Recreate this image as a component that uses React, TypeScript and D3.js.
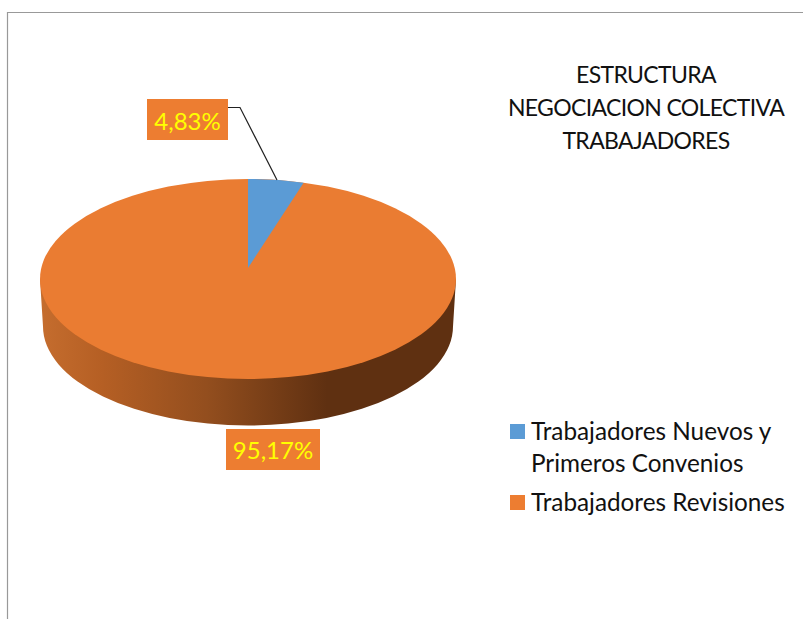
import React from "react";
import * as d3 from "d3";

const categories = ["Trabajadores Nuevos y|Primeros Convenios", "Trabajadores Revisiones"];
const values = [4.83, 95.17];
const valueLabels = ["4,83%", "95,17%"];
const colors = ["#5B9BD5", "#EA7C32"];
const legendColors = ["#5B9BD5", "#ED7D31"];
const titleLines = ["ESTRUCTURA", "NEGOCIACION COLECTIVA", "TRABAJADORES"];
const FONT = "Lato, 'Open Sans', sans-serif";

const cx = 248, cy = 279, rx = 208, ry = 100, apexY = 268;
const bx = 248, by = 326.5, brx = 205, bry = 99;

// Cast a ray from the off-centre apex to the top ellipse for pie angle a
function rim(a: number): [number, number] {
  const dx = Math.sin(a);
  const dy = -Math.cos(a);
  const oy = (apexY - cy) / ry;
  const A = dx * dx + dy * dy;
  const B = 2 * oy * dy;
  const C = oy * oy - 1;
  const t = (-B + Math.sqrt(B * B - 4 * A * C)) / (2 * A);
  return [cx + rx * dx * t, cy + ry * (oy + dy * t)];
}

export default function App() {
  const arcs = d3.pie<number>().sort(null)(values);
  const slicePath = (i: number) => {
    const a = arcs[i];
    const p0 = rim(a.startAngle);
    const p1 = rim(a.endAngle);
    const large = a.endAngle - a.startAngle > Math.PI ? 1 : 0;
    return `M${cx},${apexY}L${p0[0]},${p0[1]}A${rx},${ry} 0 ${large} 1 ${p1[0]},${p1[1]}Z`;
  };
  const side = `M${cx - rx},${cy} L${bx - brx},${by} A${brx},${bry} 0 0 0 ${bx + brx},${by} L${cx + rx},${cy} Z`;
  const x = d3.scaleLinear().domain([0, 1]).range([cx - rx, cx + rx]);
  const leader = d3.line()([[228, 107.5], [240, 107.5], [277, 180]]) as string;
  const legendRows = [
    { square: 424, baselines: [440, 472], lines: categories[0].split("|") },
    { square: 495, baselines: [511], lines: categories[1].split("|") },
  ];
  return (
    <svg width={803} height={619} style={{ position: "absolute", left: 0, top: 0, background: "#fff" }} fontFamily={FONT}>
      <defs>
        <linearGradient id="side" gradientUnits="userSpaceOnUse" x1={x(0)} x2={x(1)} y1={0} y2={0}>
          <stop offset="0" stopColor="#C56D2E" />
          <stop offset="0.15" stopColor="#B55F24" />
          <stop offset="0.4" stopColor="#934E1E" />
          <stop offset="0.69" stopColor="#5F3011" />
          <stop offset="1" stopColor="#5F3011" />
        </linearGradient>
      </defs>
      <path d="M7.5,619V12.5H803" fill="none" stroke="#999" strokeWidth={1.2} />
      <path d={side} fill="url(#side)" />
      <ellipse cx={cx} cy={cy} rx={rx} ry={ry} fill={colors[1]} />
      {arcs.map((_, i) => (i === 0 ? <path key={i} d={slicePath(i)} fill={colors[i]} /> : null))}
      <path d={leader} fill="none" stroke="#222" strokeWidth={1.2} />
      <rect x={147} y={99} width={81} height={41} fill="#ED7D31" />
      <text x={187.5} y={130} textAnchor="middle" fontSize={24} fill="#FFFF00">{valueLabels[0]}</text>
      <rect x={226} y={429} width={94} height={41} fill="#ED7D31" />
      <text x={273} y={459} textAnchor="middle" fontSize={24} fill="#FFFF00">{valueLabels[1]}</text>
      {titleLines.map((t, i) => (
        <text key={t} x={646} y={83 + i * 33} textAnchor="middle" fontSize={23} letterSpacing={-0.65} fill="#111">{t}</text>
      ))}
      {legendRows.map((r, i) => (
        <g key={i}>
          <rect x={510} y={r.square} width={15} height={15} fill={legendColors[i]} />
          {r.lines.map((l, j) => (
            <text key={l} x={531} y={r.baselines[j]} fontSize={24.3} fill="#111">{l}</text>
          ))}
        </g>
      ))}
    </svg>
  );
}
